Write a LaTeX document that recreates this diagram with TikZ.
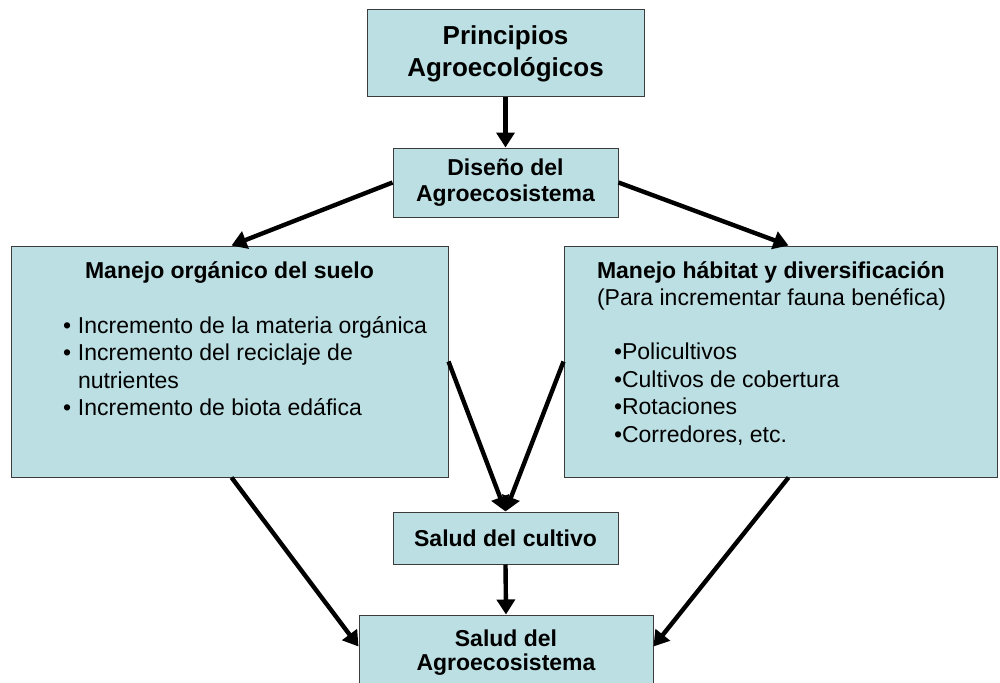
\documentclass[tikz,border=0pt]{standalone}
\usepackage{fontspec}
\setmainfont{Liberation Sans}
\usetikzlibrary{arrows.meta}
\definecolor{boxfill}{RGB}{187,223,227}
\definecolor{boxline}{RGB}{60,60,60}
\begin{document}
\begin{tikzpicture}[x=1pt,y=-1pt,
  box/.style={draw=boxline, line width=1pt, fill=boxfill, inner sep=0pt, align=center,
    font=\bfseries\fontsize{23}{26}\selectfont},
  bigbox/.style={draw=boxline, line width=1pt, fill=boxfill, inner sep=0pt,
    font=\fontsize{23}{27.5}\selectfont},
  arr/.style={draw=black, line width=4.4pt, -{Triangle[width=18pt,length=15pt]}}]
\fill[white] (0,0) rectangle (1000,682);
\useasboundingbox (0,0) rectangle (1000,682);

\node[box, minimum width=277pt, minimum height=87pt,
  font=\bfseries\fontsize{26}{32}\selectfont] (top) at (505.5,53.5) {Principios\\Agroecológicos};
\node[box, minimum width=225pt, minimum height=69pt] (dis) at (505.5,182.5) {Diseño del\\Agroecosistema};
\node[box, minimum width=225pt, minimum height=52pt] (salud) at (505.5,538) {Salud del cultivo};
\node[box, minimum width=294pt, minimum height=75pt,
  font=\bfseries\fontsize{23}{24}\selectfont] (bot) at (506,652.5) {Salud del\\Agroecosistema};

\node[bigbox] (lb) at (229.5,361.5) {\begin{minipage}[c][231pt][t]{437pt}%
\setlength\parindent{0pt}\setlength\parskip{0pt}%
{\centering\bfseries\rule{0pt}{32pt}Manejo orgánico del suelo\par}
\vspace{27.5pt}
\hspace*{52pt}\makebox[15pt][l]{•}Incremento de la materia orgánica\\
\hspace*{52pt}\makebox[15pt][l]{•}Incremento del reciclaje de\\
\hspace*{67pt}nutrientes\\
\hspace*{52pt}\makebox[15pt][l]{•}Incremento de biota edáfica\par
\end{minipage}};

\node[bigbox] (rb) at (780.5,361.5) {\begin{minipage}[c][231pt][t]{433pt}%
\setlength\parindent{0pt}\setlength\parskip{0pt}%
\hspace*{33pt}{\bfseries\rule{0pt}{32pt}Manejo hábitat y diversificación}\\
\hspace*{33pt}(Para incrementar fauna benéfica)\par
\vspace{26.5pt}
\hspace*{50pt}•Policultivos\\
\hspace*{50pt}•Cultivos de cobertura\\
\hspace*{50pt}•Rotaciones\\
\hspace*{50pt}•Corredores, etc.\par
\end{minipage}};

\draw[arr] (top.south) -- (dis.north);
\draw[arr] (dis.west) -- ([xshift=2pt]lb.north);
\draw[arr] (dis.east) -- ([xshift=8pt]rb.north);
\draw[arr] (lb.east) -- (salud.north);
\draw[arr] (rb.west) -- (salud.north);
\draw[arr] (salud.south) -- (bot.north);
\draw[arr] ([xshift=2pt]lb.south) -- ([yshift=-32pt]bot.north west);
\draw[arr] ([xshift=8pt]rb.south) -- ([yshift=-32pt]bot.north east);
\end{tikzpicture}
\end{document}
